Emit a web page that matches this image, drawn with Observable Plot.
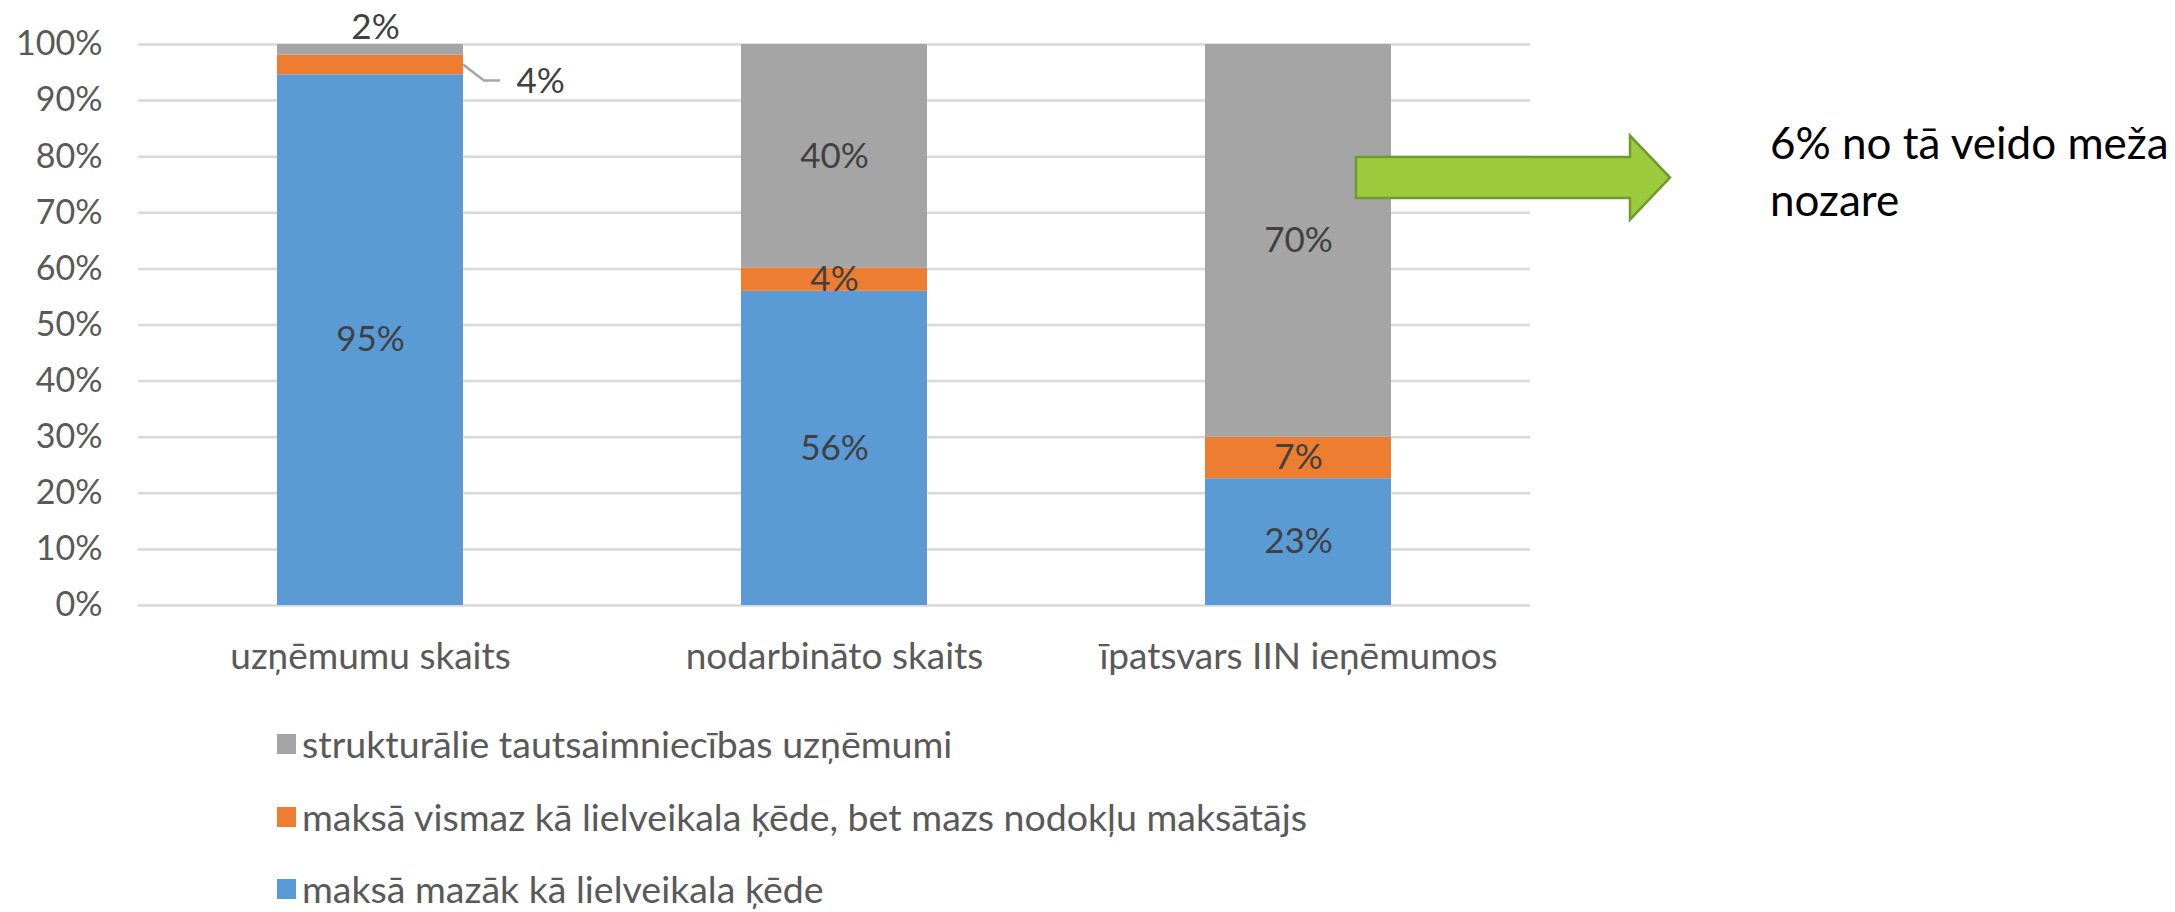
<!DOCTYPE html>
<html><head><meta charset="utf-8">
<script src="https://cdn.jsdelivr.net/npm/d3@7"></script>
<script src="https://cdn.jsdelivr.net/npm/@observablehq/plot@0.6"></script>
<style>
body{margin:0;background:#fff;font-family:Lato,"Open Sans",sans-serif;}
#wrap{position:relative;width:2175px;height:912px;overflow:hidden;background:#fff}
#legend{position:absolute;left:0;top:700px;width:2175px;height:212px}
.item{position:absolute;left:277px;display:flex;align-items:center;height:30px;font-size:37.5px;line-height:30px;color:#595959;white-space:nowrap}
.sw{width:19px;height:20px;margin-right:6px;flex:none}
</style></head><body><div id="wrap"><div id="chart"></div><div id="legend"></div></div>
<script>
// ---- data ----
const categories = ["uzņēmumu skaits", "nodarbināto skaits", "īpatsvars IIN ieņēmumos"];
const seriesNames = [
  "maksā mazāk kā lielveikala ķēde",
  "maksā vismaz kā lielveikala ķēde, bet mazs nodokļu maksātājs",
  "strukturālie tautsaimniecības uzņēmumi"
];
const seriesColors = ["#5B9BD5", "#ED7D31", "#A5A5A5"];
const belowChain = [0.946, 0.560, 0.226];
const atLeastChain = [0.035, 0.041, 0.074];
const structural = [0.019, 0.399, 0.700];
const yTicks = [0, 0.1, 0.2, 0.3, 0.4, 0.5, 0.6, 0.7, 0.8, 0.9, 1.0];
const noteLines = ["6% no tā veido meža", "nozare"];
const noteLevel = 0.762;

// ---- table ----
const seriesValues = [belowChain, atLeastChain, structural];
const rows = [];
categories.forEach((c, i) => {
  let base = 0;
  seriesValues.forEach((arr, s) => {
    const v = arr[i];
    rows.push({cat: c, series: seriesNames[s], s, i, v, y1: base, y2: base + v, mid: base + v / 2});
    base += v;
  });
});
const pct = d => Math.round(d * 100) + "%";
const inside = rows.filter(d => !(d.i === 0 && d.s > 0));
const topOutside = rows.filter(d => d.i === 0 && d.s === 2);
const sideOutside = rows.filter(d => d.i === 0 && d.s === 1);

const W = 2175, H = 700;
const chart = Plot.plot({
  width: W, height: H,
  marginLeft: 138, marginRight: 645, marginTop: 44, marginBottom: 95,
  style: {fontFamily: "Lato, 'Open Sans', sans-serif", background: "white", overflow: "visible"},
  x: {domain: categories, paddingInner: 0.6, paddingOuter: 0.3, label: null},
  y: {domain: [0, 1], label: null},
  color: {domain: seriesNames, range: seriesColors},
  marks: [
    Plot.gridY(yTicks, {stroke: "#D9D9D9", strokeOpacity: 1, strokeWidth: 2.5}),
    Plot.barY(rows, {x: "cat", y1: "y1", y2: "y2", fill: "series"}),
    Plot.axisY(yTicks, {tickSize: 0, tickPadding: 36, fontSize: 34, color: "#595959", tickFormat: pct, label: null}),
    Plot.axisX({tickSize: 0, tickPadding: 37, fontSize: 37, color: "#595959", label: null}),
    Plot.text(inside, {x: "cat", y: "mid", text: d => pct(d.v), fill: "#404040", fontSize: 35}),
    Plot.text(topOutside, {x: "cat", y: "y2", dx: 5, dy: -17, text: d => pct(d.v), fill: "#404040", fontSize: 35}),
    Plot.text(sideOutside, {x: "cat", y: "mid", dx: 146, dy: 17, textAnchor: "start", text: d => pct(d.v), fill: "#404040", fontSize: 35}),
    (index, scales) => {
      const x = scales.x, y = scales.y, bw = x.bandwidth();
      const g = d3.create("svg:g");
      // leader line for side label
      const o = sideOutside[0];
      const xr = x(o.cat) + bw, yo = y(o.mid);
      g.append("path")
        .attr("d", `M${xr},${yo} L${xr + 21},${yo + 16} H${xr + 37}`)
        .attr("fill", "none").attr("stroke", "#A6A6A6").attr("stroke-width", 2.5);
      // block arrow from last bar
      const ym = y(noteLevel);
      const x0 = x(categories[2]) + bw / 2 + 58;
      const xh = x0 + 274, xt = x0 + 314;
      g.append("path")
        .attr("d", `M${x0},${ym - 20.5} H${xh} V${ym - 42} L${xt},${ym} L${xh},${ym + 42} V${ym + 20.5} H${x0} Z`)
        .attr("fill", "#9BCB3C").attr("stroke", "#6F9A2D").attr("stroke-width", 2.5).attr("stroke-linejoin", "miter");
      const t = g.append("text").attr("font-size", 44).attr("fill", "#000").attr("text-anchor", "start");
      noteLines.forEach((line, k) => {
        t.append("tspan").attr("x", xt + 100).attr("y", ym - 19 + k * 57).attr("text-anchor", "start").text(line);
      });
      return g.node();
    }
  ]
});
document.getElementById("chart").appendChild(chart);

// ---- legend (top to bottom: reverse stacking order) ----
const legend = document.getElementById("legend");
const legendTops = [29, 102, 174];
[2, 1, 0].forEach((s, k) => {
  const item = document.createElement("div");
  item.className = "item";
  item.style.top = legendTops[k] + "px";
  const sw = document.createElement("span");
  sw.className = "sw";
  sw.style.background = seriesColors[s];
  const label = document.createElement("span");
  label.textContent = seriesNames[s];
  item.appendChild(sw); item.appendChild(label);
  legend.appendChild(item);
});
</script></body></html>
